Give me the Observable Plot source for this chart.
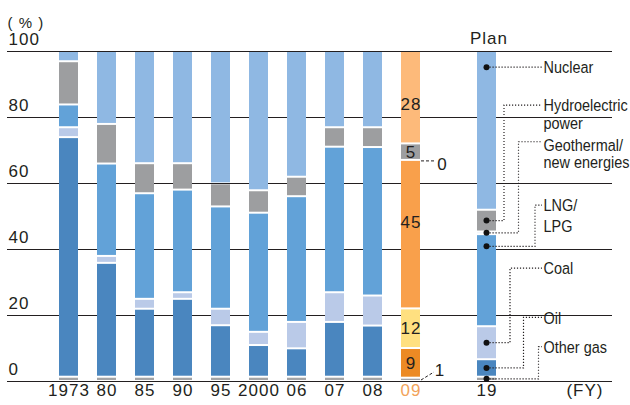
<!DOCTYPE html>
<html><head><meta charset="utf-8">
<script src="https://cdn.jsdelivr.net/npm/d3@7"></script>
<script src="https://cdn.jsdelivr.net/npm/@observablehq/plot@0.6"></script>
<style>
body{margin:0;background:#fff}
.pc text{letter-spacing:1px}
</style>
</head><body><div id="chart"></div>
<script>
// ---- data (percent of power generated, by fiscal year) ----
const years      = ["1973","80","85","90","95","2000","06","07","08","09","19"];
const otherGas   = [1.3, 1.3, 1.3, 1.3, 1.3, 1.3, 1.3, 1.3, 1.3, 1, 1.3];
const oil        = [72.6, 34.5, 20.6, 23.6, 15.6, 9.6, 8.6, 16.6, 15.5, 9, 5.3];
const coal       = [3.0, 2.1, 3.0, 2.0, 5.0, 4.0, 8.0, 9.0, 9.1, 12, 10.0];
const lng        = [6.9, 28.0, 32.0, 31.1, 31.0, 36.1, 38.1, 44.1, 45.0, 45, 27.9];
const geothermal = [0, 0, 0, 0, 0, 0, 0, 0, 0, 0, 0.8];
const hydro      = [13.1, 12.0, 9.1, 8.0, 7.0, 6.8, 5.9, 5.9, 6.0, 5, 6.6];
const nuclear    = [3.1, 22.1, 34.0, 34.0, 40.1, 42.2, 38.1, 23.1, 23.1, 28, 48.1];
const sources    = ["Other gas","Oil","Coal","LNG/LPG","Geothermal/new energies","Hydroelectric power","Nuclear"];
const legendText = [["Other gas"],["Oil"],["Coal"],["LNG/","LPG"],["Geothermal/","new energies"],["Hydroelectric","power"],["Nuclear"]];
const yTicks     = [0, 20, 40, 60, 80, 100];
const highlightYear = "09";
const planYear = "19";

// ---- derived tables ----
const series = [otherGas, oil, coal, lng, geothermal, hydro, nuclear];
const slots = [...years.slice(0, years.indexOf(planYear)), "gap", planYear];
const rows = years.flatMap((yr, i) => sources.map((s, k) => ({year: yr, source: s, value: series[k][i]}))).filter(d => d.value > 0);
const iH = years.indexOf(highlightYear);
const labelsH = sources.map((s, k) => ({year: highlightYear, source: s, value: series[k][iH]}));

// ---- styles ----
const ink = "#231F20";
const palette = {"Other gas":"#A3A4A6","Oil":"#4A86BF","Coal":"#BACAE8","LNG/LPG":"#62A2D8","Geothermal/new energies":"#E6EEF8","Hydroelectric power":"#9D9EA0","Nuclear":"#8FB8E3"};
const paletteH = {"Other gas":"#A3A4A6","Oil":"#EC8A24","Coal":"#FFE080","LNG/LPG":"#F9A04B","Geothermal/new energies":"#FDE3C8","Hydroelectric power":"#9D9EA0","Nuclear":"#FDBA7A"};
const fillOf = d => (d.year === highlightYear ? paletteH : palette)[d.source];
// legend leader layout (dot value override, label level in y units, elbow offset in px, text nudge)
const legendLayout = [
  {elbow: 52, label: 10.4, ny: 0},
  {elbow: 37, label: 19.3, ny: 0},
  {elbow: 23.5, label: 34.2, ny: 0},
  {elbow: 48.5, label: 53.3, dot: 40.8, ny: 0, lh: 21},
  {elbow: 32, label: 72.5, ny: 3.5, lh: 16.8},
  {elbow: 17.5, label: 83.6, ny: 0, lh: 17.4},
  {elbow: 0, label: 95.1, dot: 95.1, ny: 0}
];

function annotations(index, scales) {
  const {x, y} = scales;
  const bw = x.bandwidth ? x.bandwidth() : 19;
  const g = d3.create("svg:g");
  // leaders for the highlighted year's small labels
  const xr = x(highlightYear) + bw;
  const cumH = k => series.slice(0, k).reduce((a, s) => a + s[iH], 0);
  const yg = y(cumH(4)) + 1;
  g.append("line").attr("x1", xr + 1).attr("x2", xr + 15).attr("y1", yg).attr("y2", yg)
    .attr("stroke", ink).attr("stroke-width", 1).attr("stroke-dasharray", "3,2");
  g.append("line").attr("x1", xr + 1).attr("x2", xr + 14).attr("y1", y(0) - 1).attr("y2", y(0) - 9)
    .attr("stroke", ink).attr("stroke-width", 1).attr("stroke-dasharray", "3,2");
  // legend for the plan bar
  const iP = years.indexOf(planYear);
  const xc = x(planYear) + bw / 2;
  const xEnd = xc + 55.5;
  const cumP = k => series.slice(0, k).reduce((a, s) => a + s[iP], 0);
  sources.forEach((s, k) => {
    const L = legendLayout[k];
    const lo = cumP(k), hi = lo + series[k][iP];
    const yd = y(L.dot ?? (lo + hi) / 2);
    const yl = y(L.label);
    const p = L.elbow ? `M${xc},${yd}H${xc + L.elbow}V${yl}H${xEnd}` : `M${xc},${yd}H${xEnd}`;
    g.append("path").attr("d", p).attr("fill", "none").attr("stroke", ink)
      .attr("stroke-width", 1.2).attr("stroke-dasharray", "1.2,1.8");
    g.append("circle").attr("cx", xc).attr("cy", yd).attr("r", 3).attr("fill", "#111");
    const t = g.append("text")
      .attr("transform", `translate(${xEnd + 1.5},${yl + L.ny + 6.2}) scale(0.85,1)`)
      .attr("text-anchor", "start")
      .attr("fill", ink).attr("font-size", 17)
      .attr("font-family", "'Liberation Sans',Arial,sans-serif")
      .style("letter-spacing", "0px");
    legendText[k].forEach((line, j) => {
      t.append("tspan").attr("x", 0).attr("dy", j ? (L.lh || 18) : 0).text(line);
    });
  });
  return g.node();
}

const labelMark = (pick, dx, dy) => Plot.text(labelsH, Plot.stackY({
  x: "year", y: "value", text: d => pick(d) ? String(d.value) : "", fill: ink, dx, dy
}));

const chart = Plot.plot({
  width: 630, height: 405,
  marginTop: 51, marginBottom: 24, marginLeft: 40, marginRight: 115,
  className: "pc",
  style: {fontFamily: "'Liberation Sans', Arial, sans-serif", fontSize: "17px", color: ink, background: "#fff", overflow: "visible"},
  x: {type: "band", domain: slots, paddingInner: 0.5, paddingOuter: 0.5, axis: null},
  y: {domain: [0, 100], axis: null},
  color: {type: "identity"},
  marks: [
    Plot.ruleY(yTicks, {stroke: ink, strokeWidth: 1.2, insetLeft: -33, insetRight: -97}),
    Plot.barY(rows, Plot.stackY({x: "year", y: "value", fill: fillOf, insetTop: 1, insetBottom: 1})),
    Plot.ruleY([0], {stroke: ink, strokeWidth: 1.2, insetLeft: -33, insetRight: -97}),
    Plot.text(yTicks, {y: d => d, frameAnchor: "left", textAnchor: "start", dx: -32, dy: -12, text: d => String(d), fill: ink}),
    Plot.text(years, {x: d => d, frameAnchor: "bottom", dy: 14.5, text: d => d, fill: d => d === highlightYear ? "#F2A35A" : ink}),
    Plot.text(["(FY)"], {frameAnchor: "bottom-right", textAnchor: "end", dx: 88, dy: 14.5, fill: ink}),
    Plot.text(["( % )"], {frameAnchor: "top-left", textAnchor: "start", dx: -33, dy: -34, fontSize: 15, fill: ink}),
    Plot.text(["Plan"], {x: [planYear], y: [100], dx: 2, dy: -13.3, fill: ink}),
    labelMark(d => d.value >= 5 && d.source === "Nuclear", 0, 7),
    labelMark(d => d.value >= 5 && d.source === "LNG/LPG", 0, -12),
    labelMark(d => d.value >= 5 && d.source !== "Nuclear" && d.source !== "LNG/LPG", 0, 0),
    labelMark(d => d.source === "Other gas", 29, -9.5),
    labelMark(d => d.source === "Geothermal/new energies", 31.5, 4),
    annotations
  ]
});
document.getElementById("chart").appendChild(chart);
</script>
</body></html>
